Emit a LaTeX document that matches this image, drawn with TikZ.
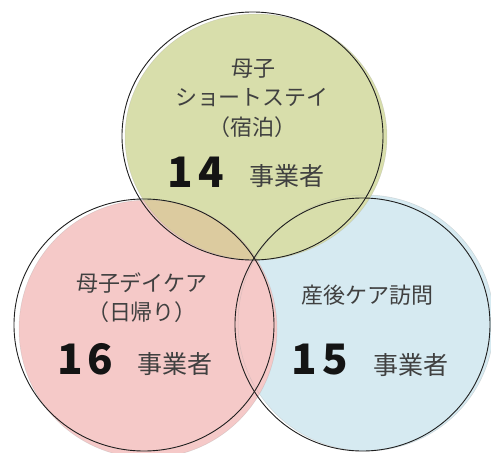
\documentclass[tikz,border=0pt]{standalone}
\usepackage{fontspec}
\newfontfamily\jp{Noto Sans CJK JP}
\definecolor{gfill}{HTML}{D8DEAB}
\definecolor{pfill}{HTML}{F5C9C8}
\definecolor{bfill}{HTML}{D6EAF1}
\definecolor{ofill}{HTML}{DCCB9F}
\definecolor{txt}{HTML}{404040}
\definecolor{num}{HTML}{141414}
\tikzset{
  outline/.style={draw=black!88, line width=0.9pt},
  faint/.style={draw=black!35, line width=0.5pt, draw opacity=0.35},
  lbl/.style={inner sep=0pt, text=txt, font=\jp\fontsize{22}{26}\selectfont},
  unit/.style={inner sep=0pt, text=txt, font=\jp\fontsize{25}{30}\selectfont},
  numtxt/.style={inner sep=0pt, text=num, font=\jp\bfseries\fontsize{42}{46}\selectfont},
}
\begin{document}
\begin{tikzpicture}[x=1pt,y=-1pt]
\useasboundingbox (0,0) rectangle (491,453);
% fills
\fill[bfill] (366,323) circle (128);
\fill[gfill] (256,137) ellipse (131 and 123);
\fill[pfill] (148,329) circle (129);
\begin{scope}
  \clip (256,137) ellipse (131 and 123);
  \fill[ofill] (148,329) circle (129);
\end{scope}
% faint fill edges
\draw[faint] (366,323) circle (128);
\draw[faint] (256,137) ellipse (131 and 123);
\draw[faint] (148,329) circle (129);
% outlines
\draw[outline] (252.5,136) ellipse (130.5 and 124);
\draw[outline] (144,325) ellipse (130 and 126);
\draw[outline] (362.5,324.5) ellipse (127.5 and 126.5);
% top texts
\node[lbl] (t1) at (253,69) {母子};
\node[lbl] (t2) at (252,98) {ショートステイ};
\node[lbl] (t3) at (252,127) {（宿泊）};
\node[numtxt] (t4) at (196,172) {1\kern5pt4};
\node[unit] (t5) at (286.5,176) {事業者};
% left texts
\node[lbl] (l1) at (142,283) {母子デイケア};
\node[lbl] (l2) at (142,312) {（日帰り）};
\node[numtxt] (l3) at (85.5,359) {1\kern5pt6};
\node[unit] (l4) at (175,364) {事業者};
% right texts
\node[lbl] (r1) at (367.5,295) {産後ケア訪問};
\node[numtxt] (r2) at (320,360) {1\kern5pt5};
\node[unit] (r3) at (411,365) {事業者};
\end{tikzpicture}
\end{document}
